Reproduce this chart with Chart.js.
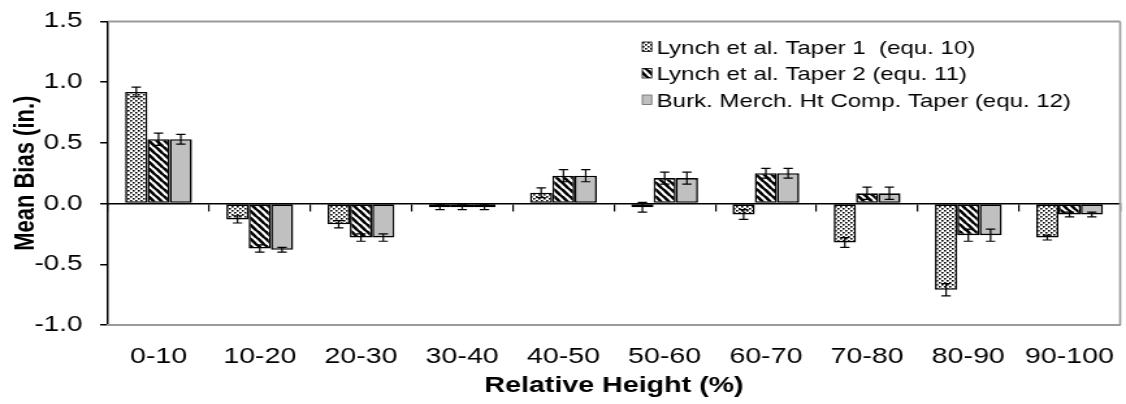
<!DOCTYPE html>
<html><head><meta charset="utf-8">
<script src="https://cdn.jsdelivr.net/npm/chart.js@4/dist/chart.umd.min.js"></script>
<style>
html,body{margin:0;padding:0;background:#fff;overflow:hidden;}
#wrap{width:1126px;height:404px;overflow:hidden;position:relative;}
#stretch{width:866px;height:404px;transform:scaleX(1.30023);transform-origin:0 0;}
canvas{display:block;}
</style></head><body>
<div id="wrap"><div id="stretch"><canvas id="c" width="866" height="404"></canvas></div></div>
<script>
// ---- data ----
const categories = ['0-10','10-20','20-30','30-40','40-50','50-60','60-70','70-80','80-90','90-100'];
const seriesNames = ['Lynch et al. Taper 1  (equ. 10)','Lynch et al. Taper 2 (equ. 11)','Burk. Merch. Ht Comp. Taper (equ. 12)'];
const taper1Values = [0.92,-0.13,-0.17,-0.03,0.09,-0.03,-0.09,-0.32,-0.71,-0.28];
const taper2Values = [0.53,-0.37,-0.28,-0.03,0.23,0.21,0.25,0.085,-0.26,-0.09];
const burkValues   = [0.53,-0.38,-0.28,-0.03,0.23,0.21,0.25,0.085,-0.26,-0.09];
const taper1Err = [0.04,0.03,0.03,0.02,0.04,0.04,0.04,0.04,0.05,0.02];
const taper2Err = [0.05,0.03,0.03,0.02,0.05,0.05,0.04,0.05,0.05,0.02];
const burkErr   = [0.04,0.02,0.03,0.02,0.05,0.05,0.04,0.05,0.05,0.02];
const yMin = -1.0, yMax = 1.5, yStep = 0.5;
const xTitle = 'Relative Height (%)';
const yTitle = 'Mean Bias (in.)';

// ---- fonts ----
const SANS = "'Liberation Sans', Arial, sans-serif";

// ---- patterns ----
const canvas = document.getElementById('c');
const ctx = canvas.getContext('2d');
function dotPattern(){
  const c=document.createElement('canvas'); c.width=4; c.height=4;
  const g=c.getContext('2d');
  g.fillStyle='#fff'; g.fillRect(0,0,4,4);
  g.fillStyle='#000'; g.fillRect(0,0,1.6,1.6); g.fillRect(2,2,1.6,1.6);
  return ctx.createPattern(c,'repeat');
}
function stripePattern(){
  const w=6,h=7.5;
  const c=document.createElement('canvas'); c.width=w; c.height=h;
  const g=c.getContext('2d');
  g.fillStyle='#fff'; g.fillRect(0,0,w,h);
  g.strokeStyle='#000'; g.lineWidth=2.5;
  for(let k=-2;k<=2;k++){
    g.beginPath(); g.moveTo(k*w-w, -h); g.lineTo(k*w+2*w, 2*h); g.stroke();
  }
  return ctx.createPattern(c,'repeat');
}
const fills = [dotPattern(), stripePattern(), '#c0c0c0'];
const errs = [taper1Err, taper2Err, burkErr];

// ---- plugins ----
const framePlugin = {
  id:'frame',
  beforeDatasetsDraw(chart){
    const a=chart.chartArea, g=chart.ctx;
    g.save(); g.strokeStyle='#9a9a9a'; g.lineWidth=2;
    g.beginPath(); g.moveTo(a.left,a.top); g.lineTo(a.right,a.top); g.stroke();
    g.lineWidth=1.6;
    g.beginPath(); g.moveTo(a.right,a.top); g.lineTo(a.right,a.bottom); g.stroke();
    g.restore();
  }
};
const errorBarPlugin = {
  id:'errbars',
  afterDatasetsDraw(chart){
    const g=chart.ctx, ys=chart.scales.y;
    g.save(); g.strokeStyle='#000'; g.lineWidth=1.2;
    chart.data.datasets.forEach((ds,di)=>{
      const meta=chart.getDatasetMeta(di);
      meta.data.forEach((bar,i)=>{
        const v=ds.data[i], e=errs[di][i];
        const y1=ys.getPixelForValue(v+e), y2=ys.getPixelForValue(v-e);
        const x=bar.x, cw=3.6;
        g.beginPath();
        g.moveTo(x,y1); g.lineTo(x,y2);
        g.moveTo(x-cw,y1); g.lineTo(x+cw,y1);
        g.moveTo(x-cw,y2); g.lineTo(x+cw,y2);
        g.stroke();
      });
    });
    g.restore();
  }
};
const legendPlugin = {
  id:'boxLegend',
  afterDraw(chart){
    const g=chart.ctx;
    g.save();
    g.font='18.5px '+SANS; g.fillStyle='#000'; g.textBaseline='alphabetic'; g.textAlign='left';
    const baselines=[53.5,80,106.5];
    chart.data.datasets.forEach((ds,i)=>{
      const b=baselines[i];
      g.fillStyle=ds.backgroundColor;
      g.fillRect(494,b-11.5,7.2,9.5);
      g.strokeStyle= i===2 ? '#666' : '#000'; g.lineWidth=0.8;
      g.strokeRect(494,b-11.5,7.2,9.5);
      g.fillStyle='#000';
      g.fillText(ds.label,505,b);
    });
    g.restore();
  }
};

const datasets = [taper1Values, taper2Values, burkValues].map((vals,i)=>({
  label: seriesNames[i],
  data: vals,
  backgroundColor: fills[i],
  borderColor: '#000',
  borderWidth: 1.6,
  borderSkipped: false,
  categoryPercentage: 0.66,
  barPercentage: 1.0,
  xAxisID: 'x', yAxisID: 'y'
}));

new Chart(ctx, {
  type:'bar',
  data:{ labels: categories, datasets },
  options:{
    responsive:false, animation:false, devicePixelRatio:1,
    layout:{padding:{top:21.5,right:4.5,left:0,bottom:0}},
    plugins:{legend:{display:false}, tooltip:{enabled:false}},
    scales:{
      y:{
        min:yMin, max:yMax,
        ticks:{stepSize:yStep, color:'#000', font:{family:SANS,size:21.5}, padding:13.5,
               callback:v=>Number(v).toFixed(1)},
        grid:{drawOnChartArea:false, drawTicks:true, tickLength:6, color:'#000', lineWidth:1.5},
        border:{display:true, color:'#000', width:1.5},
        title:{display:true, text:yTitle, color:'#000', font:{family:SANS,size:22,weight:'bold'}, padding:{top:7,bottom:0}},
        afterFit(s){ s.width=83; s.paddingTop=0; s.paddingBottom=0; }
      },
      x:{
        type:'category', position:'bottom', offset:true,
        grid:{display:false, drawTicks:false},
        border:{display:true, color:'#9a9a9a', width:2},
        ticks:{color:'#000', font:{family:SANS,size:22}, padding:19, maxRotation:0, autoSkip:false},
        title:{display:true, text:xTitle, color:'#000', font:{family:SANS,size:22,weight:'bold'}, padding:{top:0,bottom:5}},
        afterFit(s){ s.height=79; s.paddingLeft=0; s.paddingRight=0; }
      },
      x0:{
        type:'category', position:{y:0}, offset:true,
        grid:{display:true, offset:true, drawOnChartArea:false, drawTicks:true, tickLength:7, color:'#000', lineWidth:1.2},
        border:{display:true, color:'#000', width:1.5},
        ticks:{display:false}
      }
    }
  },
  plugins:[framePlugin, errorBarPlugin, legendPlugin]
});
</script>
</body></html>
